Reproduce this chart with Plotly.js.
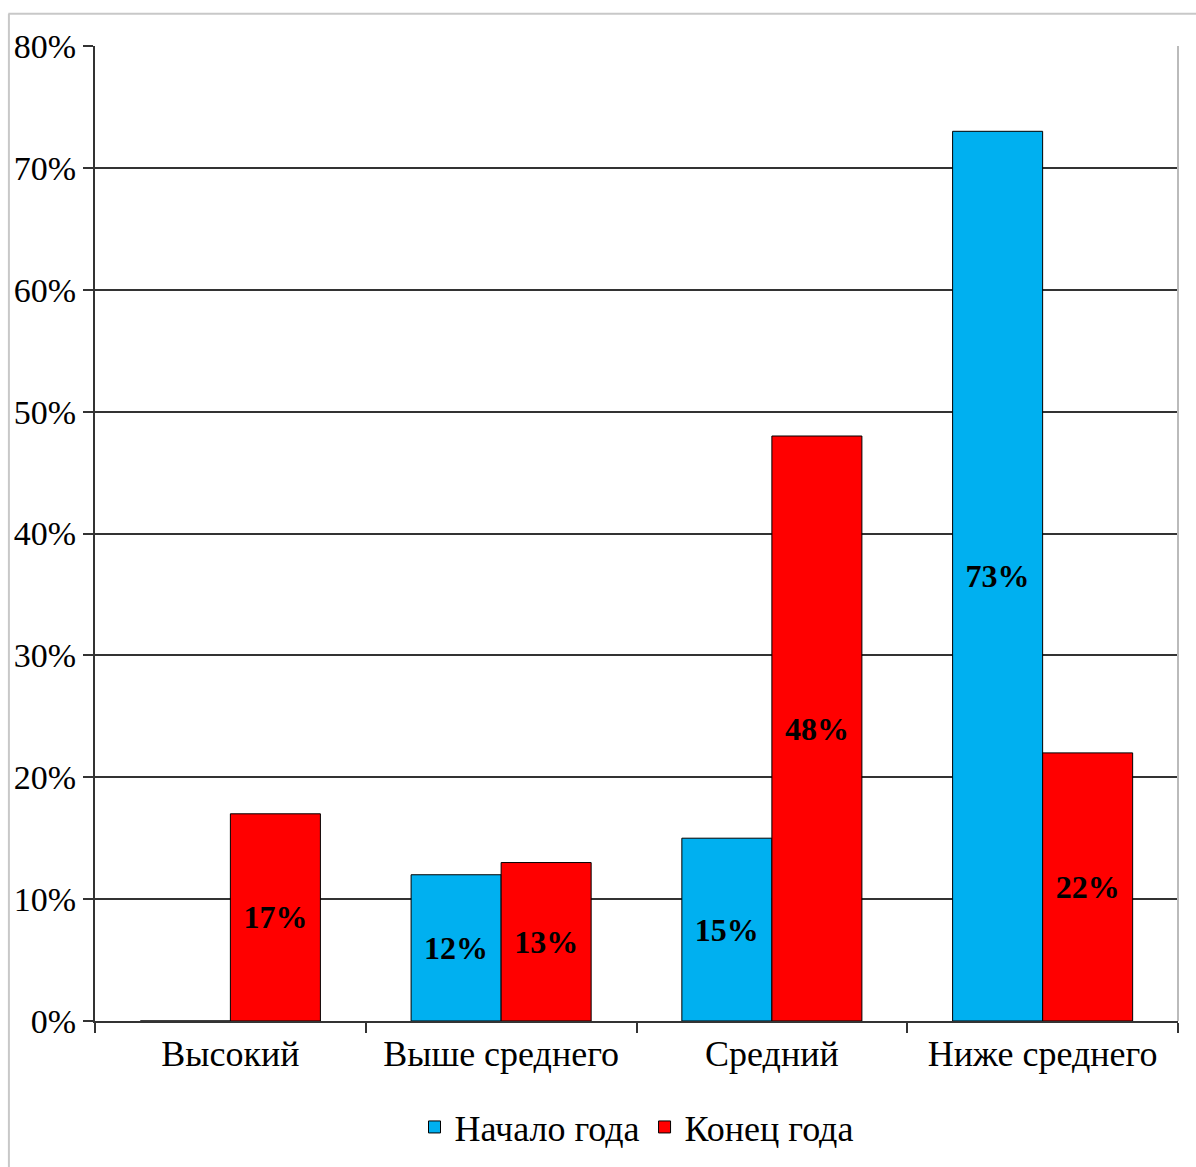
<!DOCTYPE html>
<html>
<head>
<meta charset="utf-8">
<script src="https://cdn.plot.ly/plotly-3.0.1.min.js"></script>
<style>html,body{margin:0;padding:0;background:#fff;}</style>
</head>
<body>
<div id="chart" style="width:1196px;height:1167px;"></div>
<script>
const categories = ["Высокий", "Выше среднего", "Средний", "Ниже среднего"];
const startValues = [0, 12, 15, 73];
const endValues = [17, 13, 48, 22];
const seriesNames = ["Начало года", "Конец года"];

const serif = "Liberation Serif, Times New Roman, serif";
function labels(vals){ return vals.map(v => v > 0 ? v + "%" : ""); }

const common = {
  type: "bar",
  x: categories,
  textposition: "inside",
  insidetextanchor: "middle",
  textangle: 0,
  constraintext: "none",
  textfont: {family: serif, size: 32, color: "#000", weight: "bold"},
  hoverinfo: "none"
};

const traces = [
  Object.assign({}, common, {
    name: seriesNames[0], y: startValues, text: labels(startValues),
    marker: {color: "#00B0F0", line: {color: "#000", width: 1}}
  }),
  Object.assign({}, common, {
    name: seriesNames[1], y: endValues, text: labels(endValues),
    marker: {color: "#FF0000", line: {color: "#000", width: 1}}
  })
];

const layout = {
  width: 1196, height: 1167,
  margin: {l: 95, r: 18, t: 46, b: 146, autoexpand: false},
  paper_bgcolor: "#fff", plot_bgcolor: "#fff",
  barmode: "group", bargap: 0.335, bargroupgap: 0,
  font: {family: serif, color: "#000"},
  xaxis: {
    type: "category", tickson: "boundaries", ticks: "outside", ticklen: 10,
    tickcolor: "#333", tickwidth: 2,
    showline: true, linecolor: "#333", linewidth: 2,
    showgrid: false, zeroline: false,
    tickfont: {family: serif, size: 36, color: "#000"}
  },
  yaxis: {
    range: [0, 80], dtick: 10, ticksuffix: "%",
    ticks: "outside", ticklen: 10, tickcolor: "#333", tickwidth: 2,
    showline: true, linecolor: "#333", linewidth: 2,
    showgrid: true, gridcolor: "#333", gridwidth: 2,
    zeroline: false,
    tickfont: {family: serif, size: 34, color: "#000"}
  },
  legend: {
    orientation: "h", x: 0.5, xanchor: "center", y: -0.078, yanchor: "top",
    font: {family: serif, size: 36, color: "#000"},
    itemwidth: 30, traceorder: "normal"
  },
  shapes: [
    {type: "line", xref: "paper", yref: "paper", x0: 1, x1: 1, y0: 0, y1: 1,
     line: {color: "#bbb", width: 2}},
    {type: "line", xref: "paper", yref: "paper", x0: -0.08, x1: 1.02, y0: 1.033, y1: 1.033,
     line: {color: "#c8c8c8", width: 2}},
    {type: "line", xref: "paper", yref: "paper", x0: -0.0795, x1: -0.0795, y0: -0.15, y1: 1.033,
     line: {color: "#c8c8c8", width: 2}}
  ]
};

Plotly.newPlot("chart", traces, layout, {displayModeBar: false, staticPlot: true});
</script>
</body>
</html>
